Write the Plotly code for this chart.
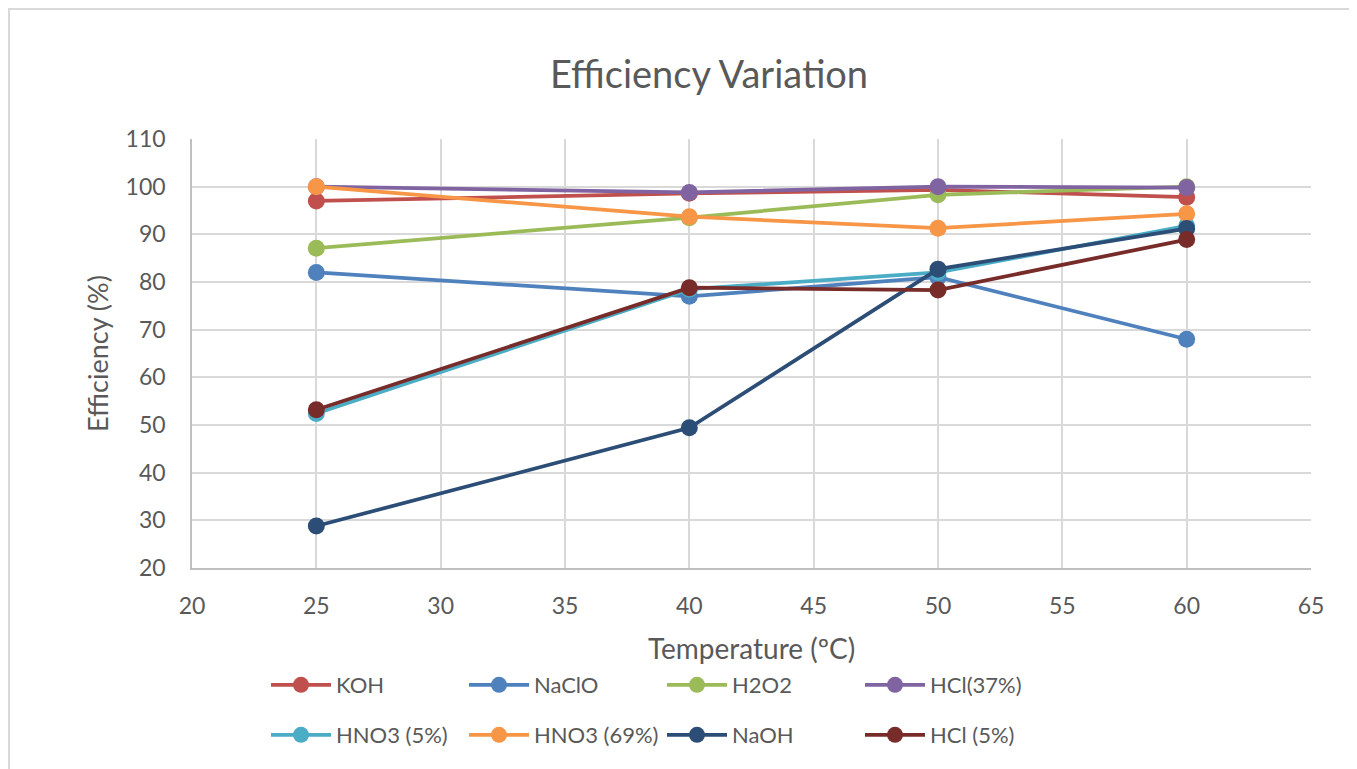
import plotly.graph_objects as go

temperature = [25, 40, 50, 60]

series_names = ["KOH", "NaClO", "H2O2", "HCl(37%)", "HNO3 (5%)", "HNO3 (69%)", "NaOH", "HCl (5%)"]
koh = [97.0, 98.6, 99.3, 97.8]
naclo = [82.0, 77.0, 81.0, 68.0]
h2o2 = [87.1, 93.5, 98.3, 100.0]
hcl37 = [100.0, 98.8, 100.0, 99.8]
hno3_5 = [52.4, 78.5, 82.0, 91.8]
hno3_69 = [100.0, 93.7, 91.3, 94.3]
naoh = [28.8, 49.4, 82.7, 91.2]
hcl5 = [53.2, 78.8, 78.3, 88.9]
series_values = [koh, naclo, h2o2, hcl37, hno3_5, hno3_69, naoh, hcl5]
colors = ["#C0504D", "#4F81BD", "#9BBB59", "#8064A2", "#4BACC6", "#F79646", "#2C4D75", "#772C2A"]

x_ticks = [20, 25, 30, 35, 40, 45, 50, 55, 60, 65]
y_ticks = [20, 30, 40, 50, 60, 70, 80, 90, 100, 110]

FONT = "Lato, 'Open Sans', sans-serif"
GRAY = "#595959"

fig = go.Figure()
for i, (name, vals, col) in enumerate(zip(series_names, series_values, colors)):
    fig.add_trace(go.Scatter(
        x=temperature, y=vals, name=name, mode="lines+markers",
        line=dict(color=col, width=3.75),
        marker=dict(color=col, size=17),
        legend="legend" if i < 4 else "legend2",
    ))

# page has an 8px body margin; work in screen pixels minus 8
OFF = 8
W, H = 1357 - OFF, 769 - OFF
L, T = 192 - OFF, 139 - OFF
R = W - (1311 - OFF)
B = H - (568 - OFF)
pw = W - L - R
ph = H - T - B

def px(p):
    return (p - OFF - L) / pw

def py(p):
    return (H - B - (p - OFF)) / ph

legend_common = dict(
    orientation="h", xanchor="left", yanchor="middle",
    font=dict(family=FONT, size=22, color=GRAY),
    entrywidth=123, entrywidthmode="pixels",
    itemwidth=60, bgcolor="rgba(0,0,0,0)",
    traceorder="normal",
)

fig.update_layout(
    width=W, height=H,
    margin=dict(l=L, r=R, t=T, b=B, autoexpand=False),
    paper_bgcolor="white", plot_bgcolor="white",
    font=dict(family=FONT, color=GRAY),
    title=dict(text="Efficiency Variation", x=(709 - OFF) / W, xref="container", xanchor="center",
               y=1 - (75 - OFF) / H, yref="container", yanchor="middle",
               font=dict(family=FONT, size=38, color=GRAY)),
    legend=dict(**legend_common, x=px(266), y=py(685)),
    legend2=dict(**legend_common, x=px(266), y=py(735)),
    xaxis=dict(range=[20, 65], tickvals=x_ticks, showgrid=True, gridcolor="#D9D9D9", gridwidth=1.5,
               zeroline=False, showline=True, linecolor="#BFBFBF", linewidth=1.5, mirror=False,
               ticks="", tickfont=dict(family=FONT, size=23, color=GRAY), ticklabelstandoff=17,
               title=dict(text="Temperature (ºC)", font=dict(family=FONT, size=28, color=GRAY), standoff=21)),
    yaxis=dict(range=[20, 110], tickvals=y_ticks, showgrid=True, gridcolor="#D9D9D9", gridwidth=1.5,
               zeroline=False, showline=True, linecolor="#BFBFBF", linewidth=1.5,
               ticks="", tickfont=dict(family=FONT, size=23, color=GRAY), ticklabelstandoff=20,
               title=dict(text="Efficiency (%)", font=dict(family=FONT, size=27, color=GRAY), standoff=9)),
    shapes=[dict(type="rect", xref="paper", yref="paper",
                 x0=px(9), x1=px(1350),
                 y0=py(790), y1=py(9),
                 line=dict(color="#D9D9D9", width=2), fillcolor="rgba(0,0,0,0)", layer="below")],
)

fig.write_html("out.html")
